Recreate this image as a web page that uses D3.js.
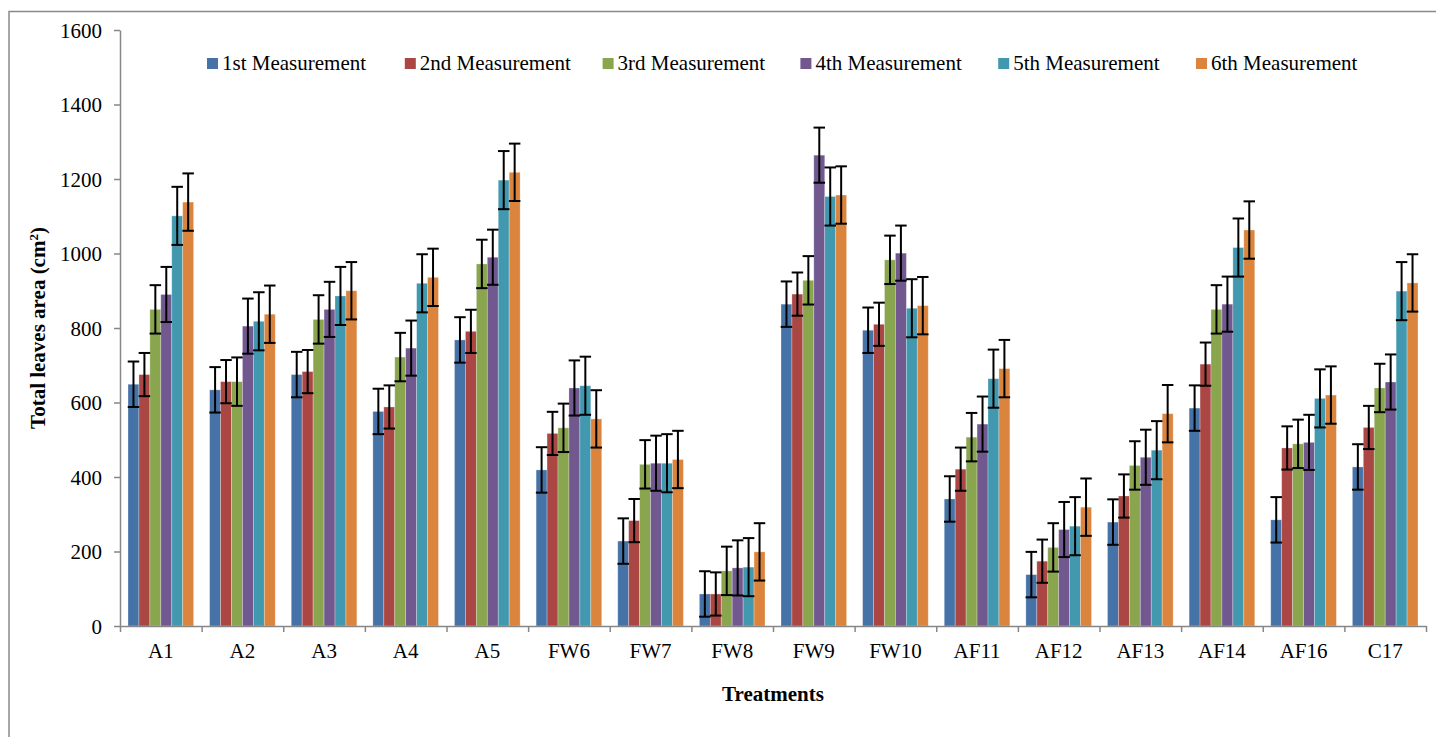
<!DOCTYPE html>
<head>
<meta charset="utf-8">
<style>
body { margin: 0; background: #fff; }
svg { display: block; font-family: "Liberation Serif", "Times New Roman", serif; }
.axis path, .axis line { stroke: #878787; stroke-width: 1.5px; }
.axis text { font-size: 21px; fill: #000; font-family: "Liberation Serif", "Times New Roman", serif; }
.err line { stroke: #000; stroke-width: 2px; }
</style>
</head>
<body>
<svg width="1436" height="737"></svg>
<script src="https://d3js.org/d3.v7.min.js"></script>
<script>
// treatments along the x axis
var categories = ["A1", "A2", "A3", "A4", "A5", "FW6", "FW7", "FW8", "FW9", "FW10",
                  "AF11", "AF12", "AF13", "AF14", "AF16", "C17"];
var seriesNames = ["1st Measurement", "2nd Measurement", "3rd Measurement",
                   "4th Measurement", "5th Measurement", "6th Measurement"];
var seriesColours = ["#4572A7", "#AA4643", "#89A54E", "#71588F", "#4198AF", "#DB843D"];

// total leaves area (cm2), one array per measurement
var m1 = [649, 634, 675, 576, 768, 419, 228, 86, 864, 794, 341, 138, 279, 585, 285, 427];
var m2 = [675, 656, 683, 588, 791, 517, 283, 86, 891, 810, 421, 174, 349, 703, 478, 533];
var m3 = [850, 656, 823, 722, 972, 532, 434, 148, 928, 983, 507, 211, 431, 850, 489, 639];
var m4 = [890, 805, 850, 746, 990, 639, 437, 156, 1264, 1001, 542, 259, 453, 864, 493, 655];
var m5 = [1101, 818, 886, 920, 1197, 645, 437, 158, 1153, 853, 664, 268, 472, 1016, 611, 899];
var m6 = [1138, 837, 900, 936, 1218, 556, 447, 199, 1157, 860, 691, 319, 570, 1063, 620, 921];
// error bar size per measurement (same for every treatment)
var errors = [61, 58, 65, 74, 78, 77];
var yTicks = [0, 200, 400, 600, 800, 1000, 1200, 1400, 1600];

var series = [m1, m2, m3, m4, m5, m6];

var svg = d3.select("svg");

//outer chart frame, runs off the picture to the right and bottom
svg.append("rect")
    .attr("x", 9).attr("y", 11.5)
    .attr("width", 1500).attr("height", 800)
    .attr("fill", "none")
    .attr("stroke", "#898989")
    .attr("stroke-width", 1.5);

var plotLeft = 120, plotRight = 1426, plotTop = 30, plotBottom = 626;

var x0 = d3.scaleBand()
    .domain(categories)
    .range([plotLeft, plotRight])
    .paddingInner(0.196)
    .paddingOuter(0.098);

var x1 = d3.scaleBand()
    .domain(d3.range(series.length))
    .range([0, x0.bandwidth()])
    .padding(0);

var y = d3.scaleLinear()
    .domain([0, 1600])
    .range([plotBottom, plotTop]);

//bars
var groups = svg.append("g")
    .selectAll("g")
    .data(categories)
    .enter().append("g")
    .attr("transform", function(d) { return "translate(" + x0(d) + ",0)"; });

groups.selectAll("rect")
    .data(function(d, i) { return series.map(function(s, k) { return {k: k, v: s[i]}; }); })
    .enter().append("rect")
    .attr("x", function(d) { return x1(d.k); })
    .attr("y", function(d) { return y(d.v); })
    .attr("width", x1.bandwidth())
    .attr("height", function(d) { return y(0) - y(d.v); })
    .attr("fill", function(d) { return seriesColours[d.k]; })
    .attr("stroke", "rgba(255,255,255,0.35)")
    .attr("stroke-width", 0.8);

//error bars
var capW = x1.bandwidth() * 1.05;
var err = groups.selectAll(".err")
    .data(function(d, i) { return series.map(function(s, k) { return {k: k, v: s[i]}; }); })
    .enter().append("g")
    .attr("class", "err")
    .attr("transform", function(d) { return "translate(" + (x1(d.k) + x1.bandwidth() / 2) + ",0)"; });

err.append("line")
    .attr("x1", 0).attr("x2", 0)
    .attr("y1", function(d) { return y(d.v + errors[d.k]); })
    .attr("y2", function(d) { return y(d.v - errors[d.k]); });
err.append("line")
    .attr("x1", -capW / 2).attr("x2", capW / 2)
    .attr("y1", function(d) { return y(d.v + errors[d.k]); })
    .attr("y2", function(d) { return y(d.v + errors[d.k]); });
err.append("line")
    .attr("x1", -capW / 2).attr("x2", capW / 2)
    .attr("y1", function(d) { return y(d.v - errors[d.k]); })
    .attr("y2", function(d) { return y(d.v - errors[d.k]); });

//y axis
svg.append("g")
    .attr("class", "axis")
    .attr("transform", "translate(" + plotLeft + ",0)")
    .call(d3.axisLeft(y).tickValues(yTicks).tickSize(6).tickSizeOuter(0).tickPadding(12).tickFormat(d3.format("d")))
    .selectAll("text").attr("dy", "0.34em");

//x axis: category boundaries as ticks
var xb = d3.scaleLinear().domain([0, categories.length]).range([plotLeft, plotRight]);
svg.append("g")
    .attr("class", "axis")
    .attr("transform", "translate(0," + plotBottom + ")")
    .call(d3.axisBottom(xb).tickValues(d3.range(categories.length + 1)).tickSize(6).tickSizeOuter(0).tickFormat(""));

//category labels
var xa = svg.append("g")
    .attr("class", "axis")
    .attr("transform", "translate(0," + plotBottom + ")")
    .call(d3.axisBottom(x0).tickSize(0).tickPadding(17));
xa.select(".domain").remove();

//axis titles
svg.append("text")
    .attr("transform", "translate(45," + ((plotTop + plotBottom) / 2) + ") rotate(-90)")
    .attr("text-anchor", "middle")
    .style("font-size", "21px")
    .style("font-weight", "bold")
    .html("Total leaves area (cm<tspan dy='-7' style='font-size:13px'>2</tspan><tspan dy='7'>)</tspan>");

svg.append("text")
    .attr("x", (plotLeft + plotRight) / 2)
    .attr("y", 701)
    .attr("text-anchor", "middle")
    .style("font-size", "21px")
    .style("font-weight", "bold")
    .text("Treatments");

//legend
var legend = svg.append("g")
    .selectAll("g")
    .data(seriesNames)
    .enter().append("g")
    .attr("transform", function(d, i) { return "translate(" + (207 + i * 197.8) + ",58)"; });

legend.append("rect")
    .attr("width", 11).attr("height", 11)
    .attr("fill", function(d, i) { return seriesColours[i]; });

legend.append("text")
    .attr("x", 15)
    .attr("y", 12)
    .style("font-size", "21px")
    .text(function(d) { return d; });
</script>
</body>
</html>
